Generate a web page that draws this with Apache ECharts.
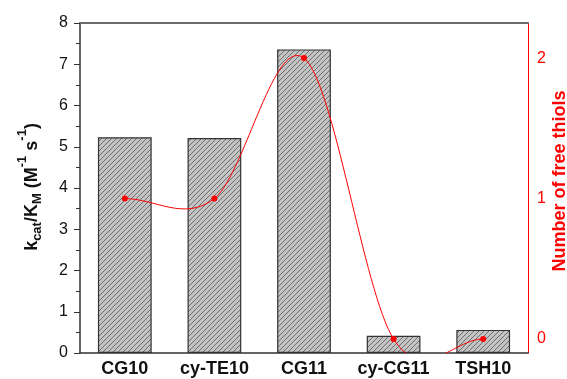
<!DOCTYPE html>
<html>
<head>
<meta charset="utf-8">
<script src="https://cdn.jsdelivr.net/npm/echarts@6/dist/echarts.min.js"></script>
<style>
html,body{margin:0;padding:0;background:#fff;}
#chart{width:567px;height:379px;}
</style>
</head>
<body>
<div id="chart"></div>
<script>
var categories = ['CG10', 'cy-TE10', 'CG11', 'cy-CG11', 'TSH10'];
var kcatKm = [5.23, 5.21, 7.36, 0.42, 0.56];
var freeThiols = [1, 1, 2, 0, 0];
var leftTicks = [0, 1, 2, 3, 4, 5, 6, 7, 8];
var rightTicks = [0, 1, 2];

function hatch() {
  var c = document.createElement('canvas');
  var p = 5;
  c.width = p; c.height = p;
  var g = c.getContext('2d');
  g.fillStyle = '#c3c3c3';
  g.fillRect(0, 0, p, p);
  g.strokeStyle = '#6e6e6e';
  g.lineWidth = 1;
  g.beginPath();
  g.moveTo(-1, p + 1); g.lineTo(p + 1, -1);
  g.moveTo(-1, 1); g.lineTo(1, -1);
  g.moveTo(p - 1, p + 1); g.lineTo(p + 1, p - 1);
  g.stroke();
  return c;
}

// Catmull-Rom spline through the series' own points, drawn through the axis scales
function renderSpline(params, api) {
  var i = params.dataIndex;
  var pts = [];
  for (var k = 0; k < freeThiols.length; k++) {
    pts.push(api.coord([k, freeThiols[k]]));
  }
  var n = pts.length;
  function tan(j) {
    var a = pts[Math.max(j - 1, 0)], b = pts[Math.min(j + 1, n - 1)];
    var span = Math.min(j + 1, n - 1) - Math.max(j - 1, 0);
    return [(b[0] - a[0]) / span, (b[1] - a[1]) / span];
  }
  var cs = params.coordSys;
  var children = [];
  if (i < n - 1) {
    var p0 = pts[i], p1 = pts[i + 1];
    var m0 = tan(i), m1 = tan(i + 1);
    children.push({
      type: 'bezierCurve',
      shape: {
        x1: p0[0], y1: p0[1], x2: p1[0], y2: p1[1],
        cpx1: p0[0] + m0[0] / 3, cpy1: p0[1] + m0[1] / 3,
        cpx2: p1[0] - m1[0] / 3, cpy2: p1[1] - m1[1] / 3
      },
      style: {stroke: '#ff0000', lineWidth: 1, fill: null},
      clipPath: {type: 'rect', shape: {x: cs.x, y: cs.y, width: cs.width, height: cs.height}}
    });
  }
  var p = pts[i];
  children.push({
    type: 'circle',
    shape: {cx: p[0], cy: p[1], r: 3},
    style: {fill: '#ff0000', stroke: null}
  });
  return {type: 'group', children: children};
}

var FONT = 'Arial, "Liberation Sans", sans-serif';
var chart = echarts.init(document.getElementById('chart'), null, {renderer: 'canvas'});
chart.setOption({
  animation: false,
  grid: {left: 80, right: 39, top: 23, bottom: 26, containLabel: false, outerBoundsMode: 'none'},
  xAxis: [{
    type: 'category',
    data: categories,
    axisLine: {onZero: false, lineStyle: {color: '#333', width: 1.5}},
    axisTick: {show: false},
    axisLabel: {color: '#111', fontFamily: FONT, fontWeight: 'bold', fontSize: 18, margin: 7, interval: 0, hideOverlap: false}
  }, {
    type: 'category',
    position: 'top',
    data: categories,
    axisLine: {onZero: false, lineStyle: {color: '#6d6d6d', width: 2}},
    axisTick: {show: false},
    axisLabel: {show: false}
  }],
  yAxis: [{
    type: 'value',
    min: 0, max: 8, interval: 1,
    position: 'left',
    axisLine: {show: true, lineStyle: {color: '#333', width: 1.5}},
    axisTick: {show: true, length: 6, lineStyle: {color: '#333'}},
    minorTick: {show: true, splitNumber: 2, length: 4, lineStyle: {color: '#333'}},
    splitLine: {show: false},
    axisLabel: {color: '#111', fontFamily: FONT, fontSize: 16, margin: 12,
      customValues: leftTicks},
    name: '{b|k}{s|cat}{b|/K}{s|M}{b| (M}{p|-1}{b| s}{p|-1}{b|)}',
    nameLocation: 'middle',
    nameRotate: 90,
    nameGap: 30,
    nameTextStyle: {
      padding: [0, 0, 0, 2],
      rich: {
        b: {fontFamily: FONT, fontWeight: 'bold', fontSize: 18, color: '#111', lineHeight: 32, verticalAlign: 'middle'},
        s: {fontFamily: FONT, fontWeight: 'bold', fontSize: 13, color: '#111', lineHeight: 32, verticalAlign: 'bottom', padding: [0, 0, 4, 0]},
        p: {fontFamily: FONT, fontWeight: 'bold', fontSize: 13, color: '#111', lineHeight: 32, verticalAlign: 'top'}
      }
    }
  }, {
    type: 'value',
    min: -0.1, max: 2.25,
    position: 'right',
    axisLine: {show: true, onZero: false, lineStyle: {color: '#ff0000', width: 1}},
    axisTick: {show: false},
    splitLine: {show: false},
    axisLabel: {color: '#ff0000', fontFamily: FONT, fontSize: 16, margin: 9,
      customValues: rightTicks},
    name: 'Number of free thiols',
    nameLocation: 'middle',
    nameRotate: 90,
    nameGap: 23,
    nameMoveOverlap: false,
    nameTextStyle: {color: '#ff0000', fontFamily: FONT, fontWeight: 'bold', fontSize: 18, padding: [0, 0, 0, 14]}
  }],
  series: [{
    type: 'bar',
    data: kcatKm,
    yAxisIndex: 0,
    barWidth: '60%',
    itemStyle: {
      color: {image: hatch(), repeat: 'repeat'},
      borderColor: '#333',
      borderWidth: 1.2
    },
    z: 2
  }, {
    type: 'custom',
    data: freeThiols,
    yAxisIndex: 1,
    renderItem: renderSpline,
    z: 3
  }]
});
</script>
</body>
</html>
